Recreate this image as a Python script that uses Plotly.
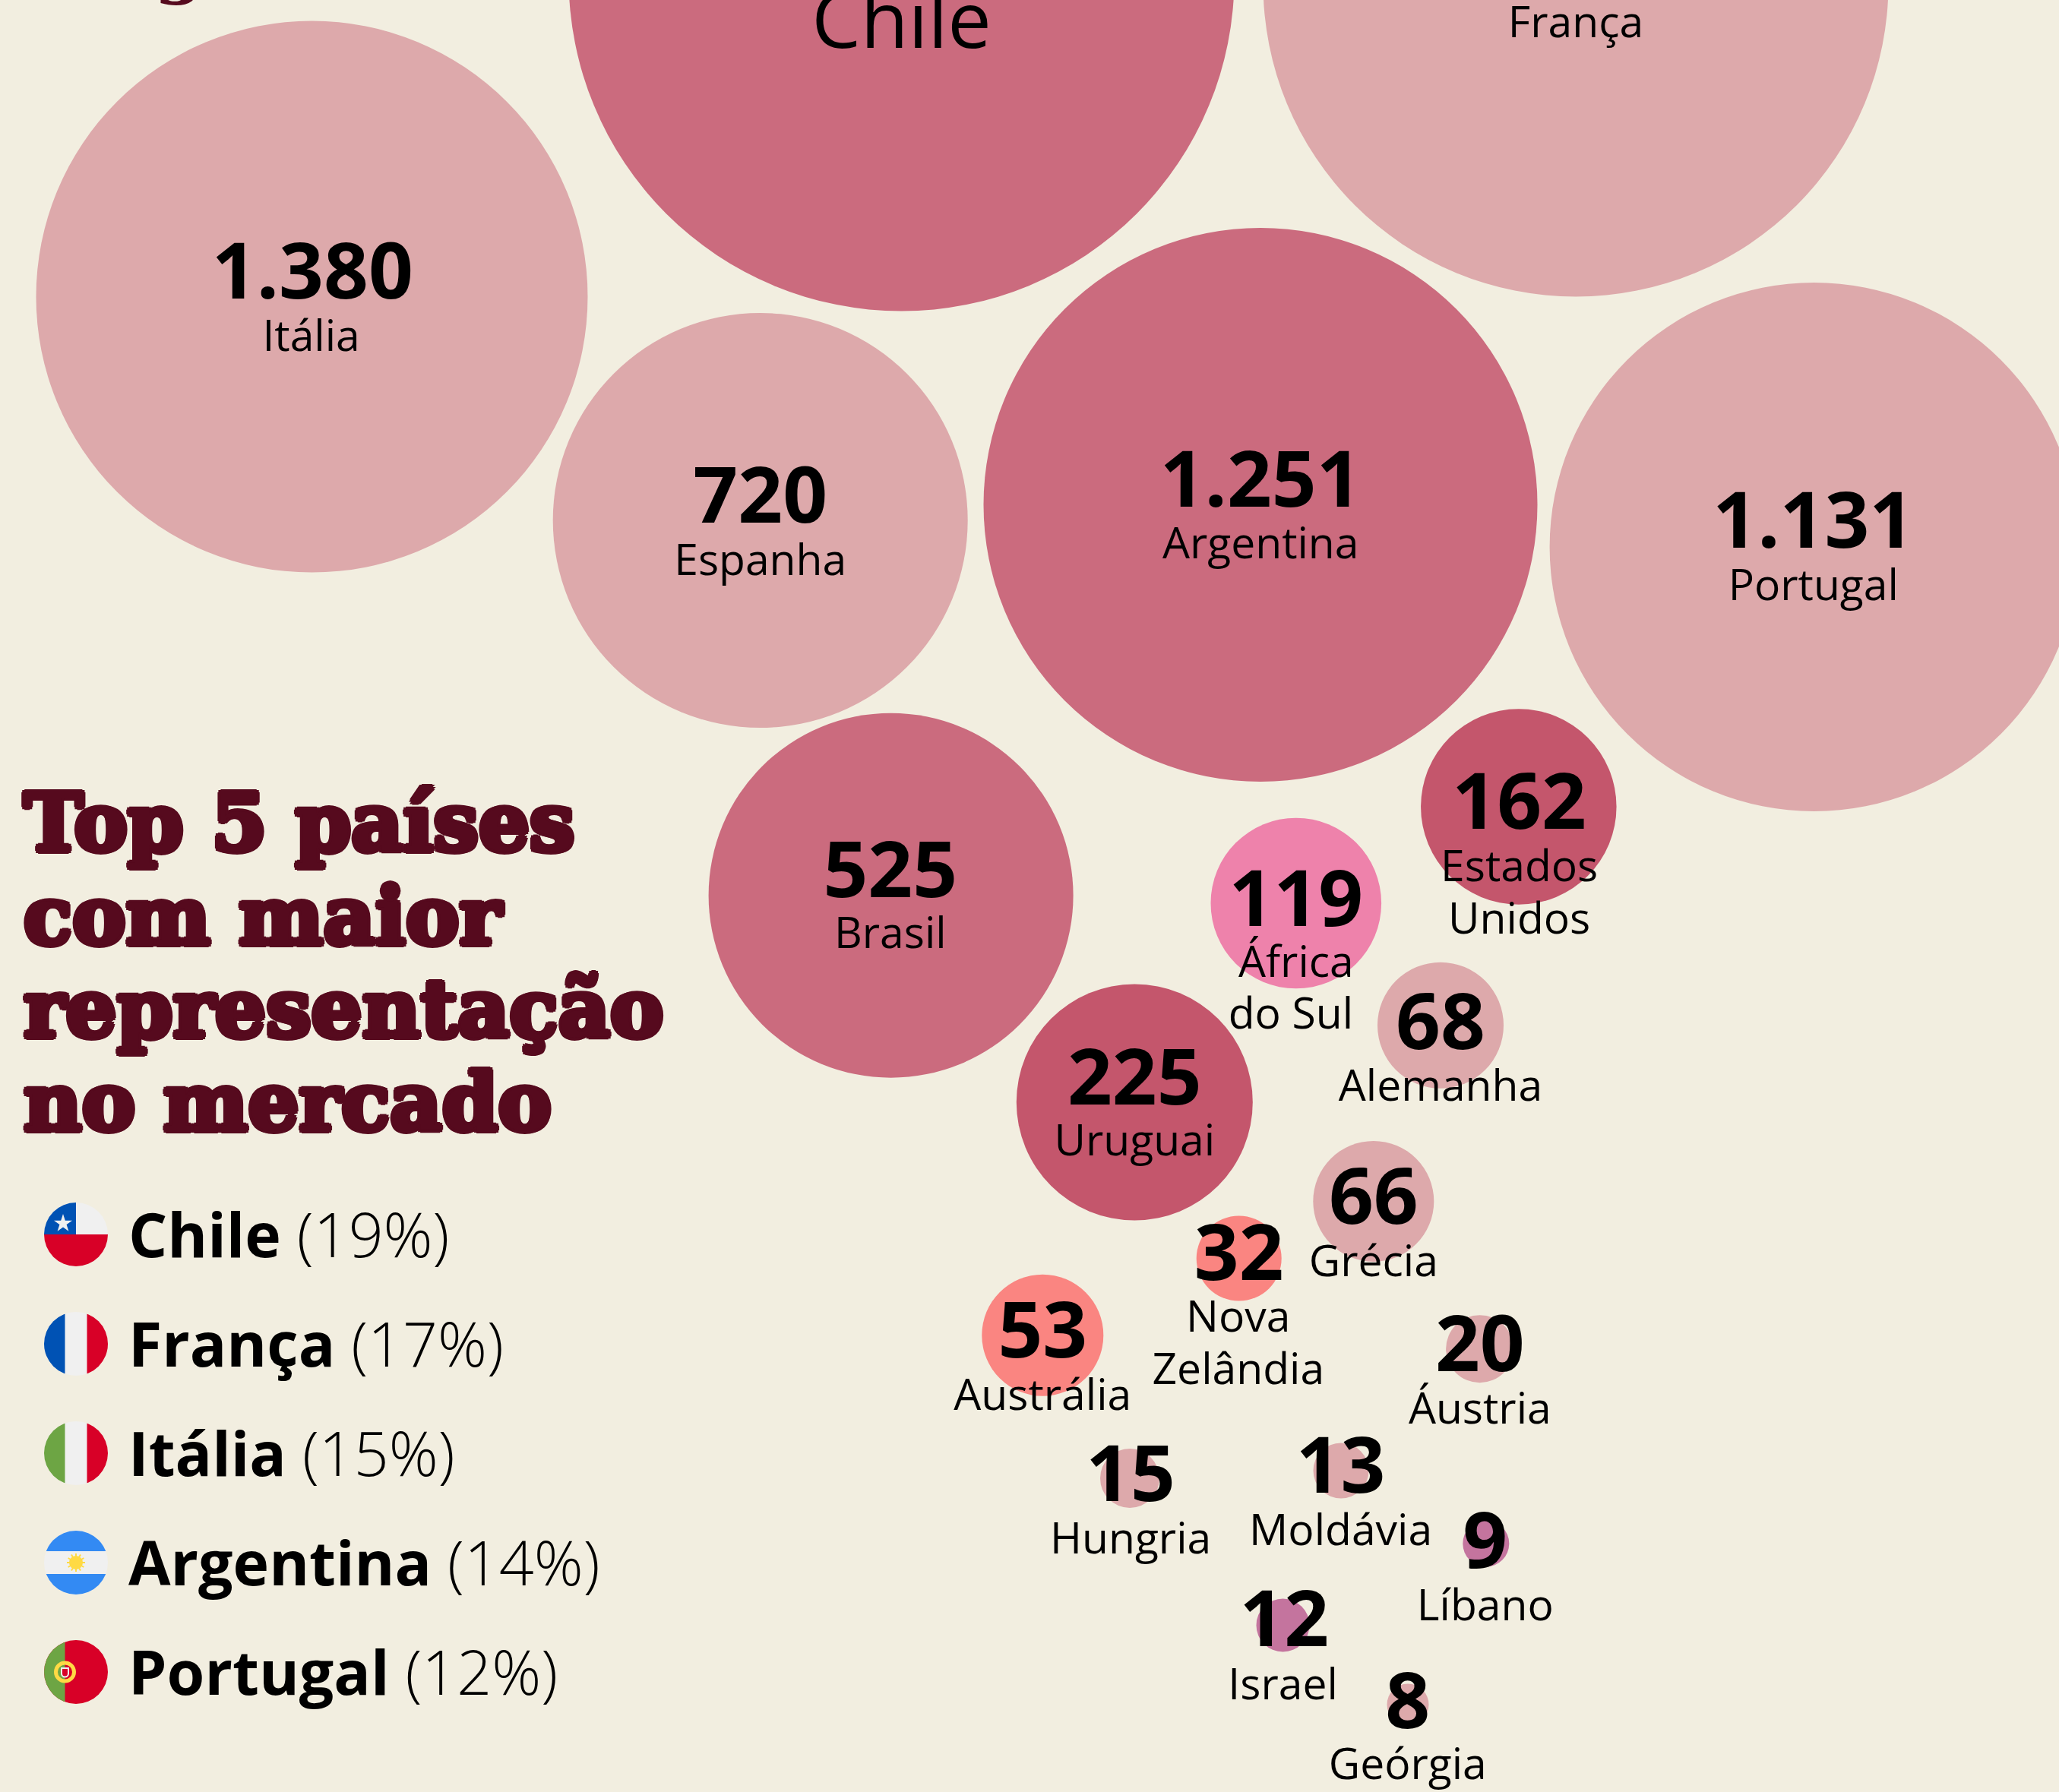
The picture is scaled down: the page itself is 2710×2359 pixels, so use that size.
import base64
import plotly.graph_objects as go

W, H = 2710, 2359
BG = "#F2EEE0"
LIGHT, MID, DEEP, HOT, CORAL, PURPLE = "#DDA9AB", "#CB6B7E", "#C4566C", "#EE82AB", "#FA8581", "#C4749E"
TITLE_C = "#560A1E"
S = 2710 / 1568

# bubbles (full-size pixel scale of the axes)
countries = ["Itália","Chile","França","Espanha","Argentina","Portugal","Brasil","Estados Unidos","África do Sul","Alemanha",
             "Uruguai","Grécia","Nova Zelândia","Austrália","Áustria","Hungria","Moldávia","Líbano","Israel","Geórgia"]
bubble_x = [410.5,1186.5,2074,1000.7,1659,2387.6,1172.6,1998.8,1705.8,1896,1493.3,1807.8,1630.7,1372.3,1947.6,1487,1765,1955.8,1688.5,1853]
bubble_y = [390.6,-28.5,-21,685,664.5,720,1178.7,1062,1189,1349.8,1451,1581.4,1656.6,1757.7,1775.7,1946,1936,2032,2139.5,2244]
bubble_d = [726,876,823,546,729,696,480,257.5,224.6,166,311,159,112,160,89,78,73,61,70,55]
bubble_c = [LIGHT,MID,LIGHT,LIGHT,MID,LIGHT,MID,DEEP,HOT,LIGHT,DEEP,LIGHT,CORAL,CORAL,LIGHT,LIGHT,LIGHT,PURPLE,PURPLE,LIGHT]

# value labels (Chile and França are cut off by the top of the picture)
values = [1380,None,None,720,1251,1131,525,162,119,68,225,66,32,53,20,15,13,9,12,8]
value_x = [238,None,None,579,960,1381,678,1157,987,1097,864,1046,943.5,794,1127,861,1021,1131,978,1072]
value_y = [207,None,None,378,366,397,663,611,685,779,821,912,955,1014,1024,1123,1117,1174,1234,1296]

name_lines = ["Itália","França","Espanha","Argentina","Portugal","Brasil","Estados","Unidos","África","do Sul","Alemanha","Uruguai",
              "Grécia","Nova","Zelândia","Austrália","Áustria","Hungria","Moldávia","Líbano","Israel","Geórgia"]
name_x = [237,1200,579,960,1381,678,1157,1157,987,983,1097,864,1046,943,943,794,1127,861,1021,1131,977,1072]
name_y = [256,17,427,414,446,711,660,700,733,772,827,869,961,1003,1043,1063,1073,1172,1166,1223,1283,1344]

top5 = ["Chile","França","Itália","Argentina","Portugal"]
top5_pct = [19,17,15,14,12]

title_lines = ["Top 5 países","com maior","representação","no mercado"]

def flag(body):
    svg = ('<svg xmlns="http://www.w3.org/2000/svg" viewBox="0 0 84 84"><defs><clipPath id="c"><circle cx="42" cy="42" r="42"/></clipPath></defs>'
           '<g clip-path="url(#c)">' + body + '</g></svg>')
    return "data:image/svg+xml;base64," + base64.b64encode(svg.encode()).decode()

RED, WHITE, BLUE, GREEN, SKY, GOLD = "#D80027", "#F0F0F0", "#0052B4", "#6DA544", "#338AF3", "#FFDA44"
flags = {
 "Chile": flag(f'<rect width="84" height="84" fill="{WHITE}"/><rect y="42" width="84" height="42" fill="{RED}"/>'
               f'<rect width="42" height="42" fill="{BLUE}"/>'
               f'<polygon fill="{WHITE}" points="25,15 27.8,23.7 37,23.7 29.6,29 32.4,37.7 25,32.4 17.6,37.7 20.4,29 13,23.7 22.2,23.7"/>'),
 "França": flag(f'<rect width="84" height="84" fill="{WHITE}"/><rect width="27.5" height="84" fill="{BLUE}"/><rect x="56.5" width="27.5" height="84" fill="{RED}"/>'),
 "Itália": flag(f'<rect width="84" height="84" fill="{WHITE}"/><rect width="27.5" height="84" fill="{GREEN}"/><rect x="56.5" width="27.5" height="84" fill="{RED}"/>'),
 "Argentina": flag(f'<rect width="84" height="84" fill="{WHITE}"/><rect width="84" height="27" fill="{SKY}"/><rect y="57" width="84" height="27" fill="{SKY}"/>'
                   f'<circle cx="42" cy="42" r="9" fill="{GOLD}"/>'
                   + "".join(f'<rect x="41" y="30" width="2" height="24" fill="{GOLD}" transform="rotate({a} 42 42)"/>' for a in range(0, 180, 30))),
 "Portugal": flag(f'<rect width="84" height="84" fill="{RED}"/><rect width="27.5" height="84" fill="{GREEN}"/>'
                  f'<circle cx="27.5" cy="42" r="12" fill="none" stroke="{GOLD}" stroke-width="5"/>'
                  f'<path d="M23 37h9v7a4.5 4.5 0 0 1-9 0z" fill="{RED}" stroke="{WHITE}" stroke-width="2"/>'),
}

fig = go.Figure()
fig.add_trace(go.Scatter(x=bubble_x, y=bubble_y, mode="markers", text=countries, hoverinfo="text",
                         marker=dict(size=bubble_d, sizemode="diameter", color=bubble_c, line=dict(width=0), opacity=1)))
fig.add_trace(go.Scatter(x=[v * S for v in name_x], y=[v * S + 5 for v in name_y], mode="text", text=name_lines,
                         textposition="middle center", hoverinfo="skip",
                         textfont=dict(family="Open Sans", size=57, color="#000")))
fig.add_trace(go.Scatter(x=[1186.5], y=[18 * S + 6], mode="text", text=["Chile"], textposition="middle center", hoverinfo="skip",
                         textfont=dict(family="Open Sans", size=102.5, color="#000")))
vx = [x * S for x in value_x if x is not None]
vy = [y * S + 9 for y in value_y if y is not None]
vt = [f"{v:,}".replace(",", ".") for v in values if v is not None]
fig.add_trace(go.Scatter(x=vx, y=vy, mode="text", text=vt, textposition="middle center", hoverinfo="skip",
                         textfont=dict(family="Open Sans", size=103, weight="bold", color="#000")))

shadow = ", ".join(f"{dx}px {dy}px 0 {TITLE_C}" for dx, dy in [(4,0),(-4,0),(0,4),(0,-4),(3,3),(-3,3),(3,-3),(-3,-3),(2,0),(-2,0),(0,2),(0,-2)])
for i, line in enumerate(title_lines):
    fig.add_annotation(x=29, y=1083 + 122.7 * i, xref="x", yref="y", xanchor="left", yanchor="middle", align="left", showarrow=False,
                       text=line, font=dict(family="DejaVu Serif", size=105.5, weight="bold", color=TITLE_C, shadow=shadow))
fig.add_annotation(x=236, y=10, xref="x", yref="y", xanchor="center", yanchor="bottom", showarrow=False, text="g",
                   font=dict(family="DejaVu Serif", size=94.4, weight="bold", color=TITLE_C))

images = []
for i, (name, pct) in enumerate(zip(top5, top5_pct)):
    cy = 1625 + 144 * i
    images.append(dict(source=flags[name], xref="x", yref="y", x=58, y=cy - 42, sizex=84, sizey=84,
                       xanchor="left", yanchor="top", sizing="stretch", layer="above"))
    fig.add_annotation(x=167, y=cy - 1, xref="x", yref="y", xanchor="left", yanchor="middle", showarrow=False,
                       text=f'<b>{name}</b> ({pct}%)',
                       font=dict(family="Open Sans", size=80.5, weight=300, color="#000"))

fig.update_layout(width=W, height=H, margin=dict(l=0, r=0, t=0, b=0), paper_bgcolor=BG, plot_bgcolor=BG,
                  showlegend=False, images=images,
                  xaxis=dict(range=[0, W], visible=False, fixedrange=True),
                  yaxis=dict(range=[H, 0], visible=False, fixedrange=True))
fig.write_html("out.html", config=dict(displayModeBar=False),
               post_script="document.body.style.margin='0';document.body.style.background='" + BG + "';document.documentElement.style.overflow='hidden';")
